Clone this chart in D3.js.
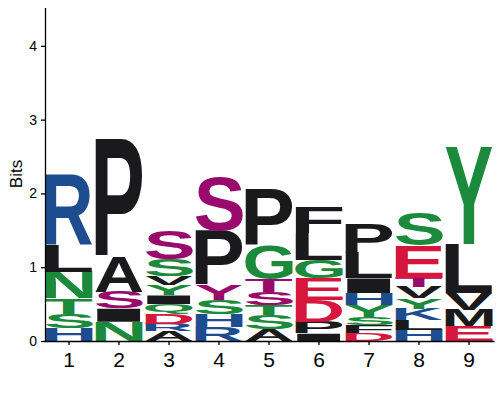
<!DOCTYPE html>
<html>
<head>
<meta charset="utf-8">
<script src="https://cdn.jsdelivr.net/npm/d3@7"></script>
<style>
  body { margin: 0; background: #fff; }
  svg { display: block; }
</style>
</head>
<body>
<div id="logo_plot"></div>
<script>
// positions along the motif
const positions = [1, 2, 3, 4, 5, 6, 7, 8, 9];

// residues per position, stacked bottom to top ("pS" etc = phospho residue)
const residues = [
  ["H", "S", "T", "N", "L", "R"],
  ["N", "I", "pS", "A", "P"],
  ["A", "R", "D", "Q", "I", "Y", "V", "S", "pS"],
  ["R", "H", "S", "pY", "P", "pS"],
  ["A", "S", "T", "pS", "pT", "G", "P"],
  ["I", "P", "D", "E", "G", "L", "F"],
  ["D", "F", "S", "Y", "H", "I", "L", "P"],
  ["H", "L", "K", "Y", "V", "pT", "E", "S"],
  ["E", "M", "V", "L", "Y"]
];

// information (bits) of each residue, same order as above
const bits = [
  [0.17, 0.20, 0.21, 0.36, 0.36, 0.95],
  [0.26, 0.18, 0.23, 0.47, 1.61],
  [0.13, 0.10, 0.13, 0.14, 0.12, 0.14, 0.12, 0.23, 0.39],
  [0.19, 0.18, 0.19, 0.20, 0.74, 0.73],
  [0.16, 0.19, 0.14, 0.18, 0.17, 0.46, 0.75],
  [0.10, 0.16, 0.30, 0.29, 0.25, 0.36, 0.35],
  [0.11, 0.11, 0.11, 0.16, 0.16, 0.20, 0.34, 0.41],
  [0.15, 0.13, 0.16, 0.14, 0.15, 0.13, 0.44, 0.44],
  [0.20, 0.22, 0.23, 0.66, 1.32]
];

const yTicks = [0, 1, 2, 3, 4];

// colour groups
const colorOf = (r) => {
  if (r.startsWith("p")) return "#990a6c";
  if ("RHK".includes(r)) return "#1d4d8f";
  if ("DE".includes(r)) return "#d6163d";
  if ("GNQSTYC".includes(r)) return "#1b8a3b";
  return "#1a1a1d";
};

const W = 500, H = 400;
const margin = { top: 7.5, right: 6, bottom: 59, left: 44 };

const svg = d3.select("#logo_plot").append("svg")
  .attr("width", W)
  .attr("height", H);

const x = d3.scaleBand()
  .domain(positions)
  .range([margin.left, W - margin.right])
  .paddingInner(0.05)
  .paddingOuter(0.025);

const y = d3.scaleLinear()
  .domain([0, 4.52])
  .range([H - margin.bottom, margin.top]);

// measure glyph ink box so each letter fills its cell exactly
const FONT = "bold 100px 'Liberation Sans', Arial, Helvetica, sans-serif";
const ctx = document.createElement("canvas").getContext("2d");
ctx.font = FONT;
const inkCache = {};
function ink(ch) {
  if (!inkCache[ch]) {
    const m = ctx.measureText(ch);
    inkCache[ch] = {
      left: -m.actualBoundingBoxLeft,
      right: m.actualBoundingBoxRight,
      top: -m.actualBoundingBoxAscent,
      bottom: m.actualBoundingBoxDescent
    };
  }
  return inkCache[ch];
}

const letters = svg.append("g");

positions.forEach((pos, i) => {
  let base = 0;
  residues[i].forEach((r, j) => {
    const h = bits[i][j];
    const ch = r.replace("p", "");
    const b = ink(ch);
    const x0 = x(pos), w = x.bandwidth();
    const yTop = y(base + h), yBot = y(base);
    const sx = w / (b.right - b.left);
    const sy = (yBot - yTop) / (b.bottom - b.top);
    letters.append("text")
      .text(ch)
      .style("font", FONT)
      .attr("fill", colorOf(r))
      .attr("transform",
        `translate(${x0},${yTop}) scale(${sx},${sy}) translate(${-b.left},${-b.top})`);
    base += h;
  });
});

// axes
const xAxis = svg.append("g")
  .attr("transform", `translate(0,${H - margin.bottom})`)
  .call(d3.axisBottom(x).tickSize(4).tickSizeOuter(0).tickPadding(7));
xAxis.selectAll("text")
  .style("font-family", "'Liberation Sans', Arial, sans-serif")
  .style("font-size", "21px")
  .attr("fill", "#000");

const yAxis = svg.append("g")
  .attr("transform", `translate(${margin.left + 1},0)`)
  .call(d3.axisLeft(y).tickValues(yTicks).tickFormat(d3.format("d")).tickSize(4).tickSizeOuter(0).tickPadding(4));
yAxis.selectAll("text")
  .style("font-family", "'Liberation Sans', Arial, sans-serif")
  .style("font-size", "14px")
  .attr("fill", "#000");

svg.selectAll(".domain, .tick line")
  .attr("stroke", "#000")
  .attr("stroke-width", 1.3);

svg.append("text")
  .attr("transform", `translate(22,174) rotate(-90)`)
  .attr("text-anchor", "middle")
  .style("font-family", "'Liberation Sans', Arial, sans-serif")
  .style("font-size", "17px")
  .text("Bits");
</script>
</body>
</html>
